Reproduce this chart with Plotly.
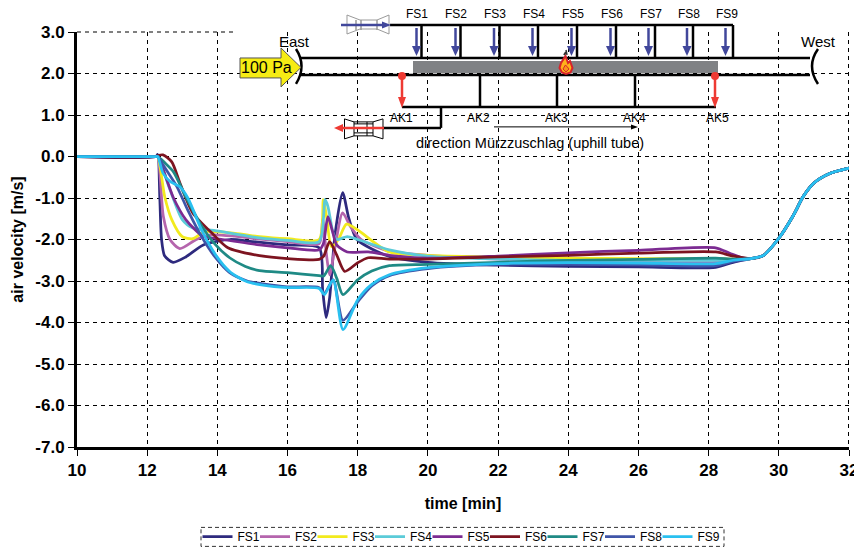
import plotly.graph_objects as go

NAMES = ["FS1", "FS2", "FS3", "FS4", "FS5", "FS6", "FS7", "FS8", "FS9"]
COLORS = ["#2e2a7e", "#b565ad", "#f2ea1d", "#5bcbd8", "#7c2b92", "#7d1420", "#1f8a85", "#3f55a8", "#29c0f0"]

START_T = [10, 12.25]
START_V = [0, 0]
END_T = [29.2, 29.55, 30, 30.4, 30.7, 31, 31.45, 32]
END_V = [-2.46, -2.39, -1.97, -1.44, -0.96, -0.64, -0.41, -0.28]

FS1_T = [12.3, 12.36, 12.41, 12.5, 12.74, 13.1, 13.6, 14.36, 15, 16, 16.9, 17.0, 17.1, 17.2, 17.35, 17.57, 17.75, 17.98, 18.9, 20, 22, 24, 26, 28.2, 28.7]
FS1_V = [0.05, -1.0, -2.0, -2.4, -2.55, -2.42, -2.13, -2.0, -2.05, -2.13, -2.2, -3.2, -3.88, -3.4, -1.9, -0.87, -1.5, -2.0, -2.41, -2.55, -2.62, -2.65, -2.66, -2.67, -2.55]
FS2_T = [12.3, 12.46, 12.65, 12.93, 13.4, 13.8, 14.5, 15, 16, 16.9, 17.0, 17.1, 17.2, 17.35, 17.57, 17.8, 18.1, 18.9, 20, 22, 24, 26, 28.2, 28.7]
FS2_V = [0.0, -1.44, -2.0, -2.22, -2.0, -1.89, -1.92, -1.97, -2.05, -2.1, -1.5, -2.3, -2.85, -2.2, -1.36, -1.7, -2.0, -2.28, -2.38, -2.47, -2.53, -2.55, -2.55, -2.5]
FS3_T = [12.3, 12.5, 12.7, 13, 13.3, 13.65, 14.5, 15.2, 16, 16.9, 17.02, 17.12, 17.25, 17.45, 17.68, 17.98, 18.9, 20, 22, 24, 26, 28.2, 28.7]
FS3_V = [0.0, -0.97, -1.52, -1.93, -1.98, -1.81, -1.85, -1.93, -1.98, -2.0, -1.04, -1.5, -2.17, -2.0, -1.63, -1.76, -2.3, -2.38, -2.42, -2.45, -2.46, -2.46, -2.47]
FS4_T = [12.3, 12.65, 13, 13.3, 13.9, 15.2, 16, 16.9, 17.07, 17.15, 17.3, 17.4, 17.7, 18, 18.9, 20, 22, 24, 26, 28.2, 28.7]
FS4_V = [0.0, -0.8, -1.52, -1.72, -1.78, -1.96, -2.02, -2.05, -1.04, -1.2, -1.85, -2.0, -1.93, -2.0, -2.25, -2.4, -2.47, -2.5, -2.5, -2.5, -2.49]
FS5_T = [12.3, 12.75, 13.1, 13.6, 13.9, 15.2, 16, 16.9, 17.02, 17.15, 17.28, 17.4, 17.7, 18.3, 18.9, 20, 22, 24, 26, 28.2, 28.6, 29]
FS5_V = [0.0, -1.0, -1.52, -1.93, -1.97, -2.13, -2.2, -2.25, -2.1, -1.45, -1.8, -2.13, -2.3, -2.3, -2.38, -2.45, -2.4, -2.32, -2.26, -2.2, -2.33, -2.45]
FS6_T = [12.3, 12.45, 12.7, 12.93, 13.3, 13.9, 14.3, 15.2, 16, 16.9, 17.03, 17.2, 17.4, 17.63, 18, 18.3, 18.9, 20, 22, 24, 26, 28.2, 28.7]
FS6_V = [0.02, 0.04, -0.13, -0.63, -1.36, -1.89, -2.2, -2.39, -2.46, -2.48, -2.4, -2.05, -2.37, -2.77, -2.56, -2.44, -2.47, -2.47, -2.42, -2.38, -2.33, -2.3, -2.4]
FS7_T = [12.3, 12.5, 12.75, 13.1, 13.5, 13.9, 14.35, 14.8, 15.2, 16, 16.9, 17.03, 17.23, 17.4, 17.58, 18, 18.4, 18.9, 20, 22, 24, 26, 28.2, 28.7]
FS7_V = [0.0, -0.15, -0.37, -0.97, -1.6, -2.08, -2.44, -2.65, -2.75, -2.8, -2.87, -2.88, -2.63, -2.93, -3.33, -2.97, -2.76, -2.63, -2.6, -2.55, -2.5, -2.48, -2.45, -2.47]
FS8_T = [12.3, 12.45, 12.85, 13.15, 13.55, 13.95, 14.35, 14.85, 15.3, 16, 16.9, 17.05, 17.3, 17.58, 18, 18.4, 18.9, 20, 22, 24, 26, 28.2, 28.7]
FS8_V = [0.0, -0.2, -0.73, -1.28, -1.93, -2.44, -2.8, -3.0, -3.07, -3.14, -3.16, -3.3, -2.97, -3.95, -3.5, -3.12, -2.87, -2.7, -2.6, -2.6, -2.61, -2.63, -2.53]
FS9_T = [12.3, 12.45, 12.65, 12.93, 13.16, 13.55, 13.95, 14.35, 14.85, 15.3, 16, 16.9, 17.05, 17.3, 17.58, 18, 18.4, 18.9, 20, 22, 24, 26, 28.2, 28.7]
FS9_V = [0.0, -0.4, -0.6, -0.73, -1.0, -1.77, -2.37, -2.77, -3.02, -3.1, -3.16, -3.18, -3.33, -2.97, -4.17, -3.45, -3.08, -2.85, -2.68, -2.58, -2.56, -2.57, -2.58, -2.5]

SERIES_T = [FS1_T, FS2_T, FS3_T, FS4_T, FS5_T, FS6_T, FS7_T, FS8_T, FS9_T]
SERIES_V = [FS1_V, FS2_V, FS3_V, FS4_V, FS5_V, FS6_V, FS7_V, FS8_V, FS9_V]

X_TICKS = [10, 12, 14, 16, 18, 20, 22, 24, 26, 28, 30, 32]
Y_TICKS = [3, 2, 1, 0, -1, -2, -3, -4, -5, -6, -7]
Y_LABELS = ["3.0", "2.0", "1.0", "0.0", "-1.0", "-2.0", "-3.0", "-4.0", "-5.0", "-6.0", "-7.0"]

FS_LABEL_X = [417, 456, 495, 534, 573, 612, 651, 689, 727]
FS_RISER_X = [421.5, 460.5, 499.5, 538, 577, 616, 655, 693, 733]
FS_ARROW_X = [416, 455, 493.5, 532, 571, 610, 648, 686.5, 725]
AK_LABELS = [("AK1", 401), ("AK2", 478.5), ("AK3", 556), ("AK4", 634), ("AK5", 717)]
AK_RISER_X = [480, 557, 635]
FONT = "Liberation Sans"

L, R, T, B = 77, 849, 32, 447.5
W, H = 854, 550


def px(x):
    return (x - L) / (R - L)


def py(y):
    return 1 - (y - T) / (B - T)


shapes = []
annots = []


def rect(x0, y0, x1, y1, fill, line=None, layer="above", width=0, dash=None):
    shapes.append(dict(type="rect", xref="paper", yref="paper", x0=px(x0), x1=px(x1), y0=py(y0), y1=py(y1),
                       fillcolor=fill, layer=layer,
                       line=dict(color=line or "rgba(0,0,0,0)", width=width, dash=dash)))


def seg(x0, y0, x1, y1, color="black", width=2.5, dash=None, layer="above"):
    shapes.append(dict(type="line", xref="paper", yref="paper", x0=px(x0), x1=px(x1), y0=py(y0), y1=py(y1),
                       layer=layer, line=dict(color=color, width=width, dash=dash)))


def poly(points, fill=None, line=None, width=1, closed=True):
    d = "M " + " L ".join(f"{px(a):.5f},{py(b):.5f}" for a, b in points) + (" Z" if closed else "")
    shapes.append(dict(type="path", xref="paper", yref="paper", path=d,
                       fillcolor=fill or "rgba(0,0,0,0)",
                       line=dict(color=line or "rgba(0,0,0,0)", width=width)))


def curve(p0, c, p1, color="black", width=2.5):
    d = f"M {px(p0[0]):.5f},{py(p0[1]):.5f} Q {px(c[0]):.5f},{py(c[1]):.5f} {px(p1[0]):.5f},{py(p1[1]):.5f}"
    shapes.append(dict(type="path", xref="paper", yref="paper", path=d, line=dict(color=color, width=width)))


def label(x, y, text, size=12, bold=False, color="black"):
    annots.append(dict(xref="paper", yref="paper", x=px(x), y=py(y), text=f"<b>{text}</b>" if bold else text,
                       showarrow=False, xanchor="center", yanchor="middle",
                       font=dict(family=FONT, size=size, color=color)))


BLUE = "#41479b"
RED = "#ee3a33"

rect(236, 0, 846, 158, "white", layer="below")

seg(L, T, 236, T, width=1, dash="4px,4px", layer="below")
seg(R - 0.5, T, R - 0.5, B, width=1, dash="4px,4px", layer="below")

seg(300, 58, 810, 58)
seg(300, 75, 810, 75)
rect(413, 61, 718, 73, "#808285")
curve((296, 49), (307, 66), (296, 84))
curve((818, 49), (806, 66), (818, 84))

seg(390, 25, 733, 25)
for x in FS_RISER_X:
    seg(x, 25, x, 58)
for x in FS_ARROW_X:
    seg(x + 0.5, 28, x + 0.5, 48, BLUE, 2.5)
    poly([(x - 4, 46), (x + 5, 46), (x + 0.5, 56)], fill=BLUE)

poly([(347, 15), (347, 34), (360, 29), (377, 29), (389, 34), (389, 15), (377, 20), (360, 20)], line="#9a9a9a", width=1)
seg(356, 20, 356, 30, "#9a9a9a", 1.5)
seg(361, 20, 361, 30, "#9a9a9a", 1.5)
seg(377, 20, 377, 30, "#9a9a9a", 1.5)
seg(341, 25, 384, 25, BLUE, 2.5)
poly([(382, 21.5), (382, 28.5), (391, 25)], fill=BLUE)

seg(402, 107, 716, 107)
for x in AK_RISER_X:
    seg(x, 75, x, 107)
seg(441, 107, 441, 128)
seg(441, 128, 383, 128)
for x in (402, 715):
    seg(x, 76, x, 100, RED, 2.5)
    poly([(x - 4, 97), (x + 4, 97), (x, 108)], fill=RED)
    shapes.append(dict(type="circle", xref="paper", yref="paper", x0=px(x - 4), x1=px(x + 4), y0=py(80), y1=py(72),
                       fillcolor=RED, line=dict(color=RED, width=0)))

poly([(344.5, 119), (344.5, 139), (354, 136), (373, 136), (383, 139), (383, 119), (373, 122), (354, 122)], line="black", width=1)
seg(354, 122, 354, 136, "black", 1)
seg(367, 122, 367, 136, "black", 1)
seg(373, 122, 373, 136, "black", 1)
seg(354, 124, 373, 124, "black", 1)
seg(354, 133, 373, 133, "black", 1)
seg(342, 128, 384, 128, RED, 2.5)
poly([(343, 124), (343, 132), (334, 128)], fill=RED)

seg(494, 127, 632, 127, "black", 1)
poly([(631, 124.5), (631, 129.5), (638, 127)], fill="black")

poly([(240, 58), (281, 58), (281, 48), (301, 67.5), (281, 87), (281, 78), (240, 78)], fill="#f6ec14", line="#555555", width=1)

poly([(565.5, 56), (561, 63), (559.5, 68), (562, 72.5), (566, 74), (570.5, 72.5), (572.5, 68), (570, 61), (568, 63)], fill="#ffb21a", line="#d8232a", width=2)
poly([(565.5, 65), (563, 69), (566, 72), (569, 69)], fill="#f7941d", line="#d8232a", width=1)
seg(564, 55, 566, 52, "#333333", 2)
seg(567, 55, 566, 50, "#333333", 1.5)

for name, x in zip(NAMES, FS_LABEL_X):
    label(x, 14, name, size=12)
for text, x in AK_LABELS:
    label(x, 118.5, text, size=12)
label(530, 143, "direction Mürzzuschlag (uphill tube)", size=14.5)
label(294, 42, "East", size=15)
label(818, 42, "West", size=15)
label(266, 68, "100 Pa", size=16)

rect(201, 528, 724, 547, "rgba(0,0,0,0)", line="#333333", width=1, dash="4px,3px")

fig = go.Figure()
for name, color, t, v in zip(NAMES, COLORS, SERIES_T, SERIES_V):
    fig.add_trace(go.Scatter(
        x=START_T + t + END_T, y=START_V + v + END_V, name=name, mode="lines",
        line=dict(color=color, width=2.75, shape="spline", smoothing=0.7),
        legendwidth=30 if name == NAMES[-1] else 12.5,
    ))

axis_common = dict(
    showline=True, linecolor="black", linewidth=3, ticks="outside", ticklen=6, tickwidth=1, tickcolor="black",
    showgrid=True, gridcolor="black", griddash="4px,4px", gridwidth=1, zeroline=False, automargin=False,
    ticklabeloverflow="allow", tickfont=dict(family=FONT, size=17, color="black"),
)
fig.update_layout(
    width=W, height=H, paper_bgcolor="white", plot_bgcolor="white",
    margin=dict(l=L, r=W - R, t=T, b=H - B, pad=0),
    font=dict(family=FONT, color="black"),
    xaxis=dict(range=[10, 32], tickvals=X_TICKS, ticktext=[f"<b>{v}</b>" for v in X_TICKS],
               title=dict(text="<b>time [min]</b>", font=dict(family=FONT, size=16), standoff=19), **axis_common),
    yaxis=dict(range=[-7, 3], tickvals=Y_TICKS, ticktext=[f"<b>{v}</b>" for v in Y_LABELS],
               title=dict(text="<b>air velocity [m/s]</b>", font=dict(family=FONT, size=16), standoff=8), **axis_common),
    legend=dict(orientation="h", xref="container", yref="container",
                x=191.5 / W, y=1 - 516 / H, xanchor="left", yanchor="top",
                entrywidthmode="pixels", itemwidth=30, tracegroupgap=0,
                borderwidth=6, bordercolor="rgba(0,0,0,0)",
                font=dict(family=FONT, size=12, color="black"), bgcolor="rgba(0,0,0,0)"),
    shapes=shapes, annotations=annots,
)
fig.write_html("out.html", default_width=f"{W}px", default_height=f"{H}px", config={"displayModeBar": False},
               post_script="document.body.style.margin='0';document.body.style.overflow='hidden';")
